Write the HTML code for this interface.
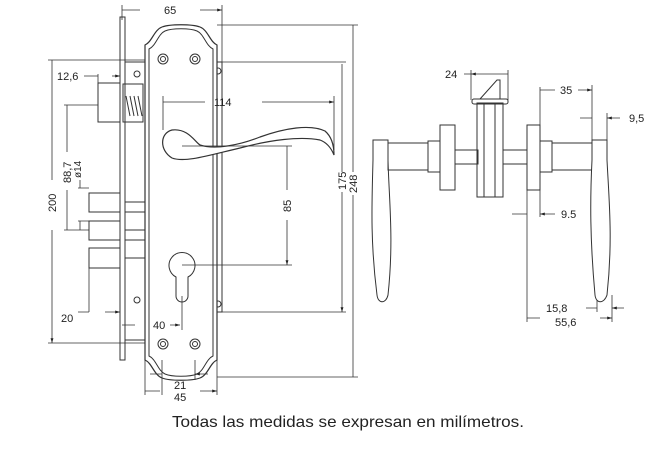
<!DOCTYPE html>
<html><head><meta charset="utf-8"><style>
html,body{margin:0;padding:0;background:#fff;width:672px;height:451px;overflow:hidden}
svg{display:block}
text{font-family:"Liberation Sans",sans-serif;font-size:11px;fill:#222}
</style></head><body>
<svg width="672" height="451" viewBox="0 0 672 451" xmlns="http://www.w3.org/2000/svg">
<defs><marker id="a" viewBox="0 0 10 10" refX="10" refY="5" markerWidth="6" markerHeight="6" orient="auto-start-reverse"><path d="M0,2 L10,5 L0,8z" fill="#222"/></marker></defs>
<g stroke="#333" stroke-width="1" fill="none">
<rect x="120" y="17" width="5" height="343" fill="#fff"/>
<rect x="125" y="62" width="22" height="278"/>
<rect x="98" y="83" width="22" height="39"/>
<rect x="123" y="84" width="20" height="38"/>
<path d="M126,96 l4,20 M130,96 l4,20 M134,96 l4,20 M138,96 l4,20"/>
<rect x="89" y="193" width="31" height="19"/>
<rect x="89" y="221" width="31" height="19"/>
<rect x="89" y="248" width="31" height="20"/>
<path d="M125,202 H147 M125,212 H147 M125,230 H147 M125,240 H147 M125,258 H147"/>
<rect x="215" y="62" width="7" height="250"/>
<circle cx="218" cy="71" r="3"/><circle cx="218" cy="304" r="3"/>
<circle cx="137" cy="74" r="3"/><circle cx="137" cy="300" r="3"/>
<path d="M145,45 C152,42 154,30 162,27 C170,24 192,24 200,27 C208,30 210,42 217,45 L217,360 C210,363 208,375 200,378 C192,381 170,381 162,378 C154,375 152,363 145,360 Z" fill="#fff" stroke-width="1.2"/>
<path d="M149,49 C156,46 158,34 165,31 C172,28 190,28 197,31 C204,34 206,46 213,49 L213,356 C206,359 204,371 197,374 C190,377 172,377 165,374 C158,371 156,359 149,356 Z"/>
<circle cx="163" cy="59" r="5"/><circle cx="163" cy="59" r="2.5"/>
<circle cx="195" cy="59" r="5"/><circle cx="195" cy="59" r="2.5"/>
<circle cx="163" cy="344" r="5"/><circle cx="163" cy="344" r="2.5"/>
<circle cx="195" cy="344" r="5"/><circle cx="195" cy="344" r="2.5"/>
<path d="M172,130 C160,133 159,150 172,158 C185,163 210,155 240,148 C270,140 300,136 320,140 C328,143 332,150 334,155 C334,146 332,137 325,131 C310,124 285,128 260,137 C240,145 215,150 200,145 C195,142 188,128 172,130 Z" fill="#fff" stroke-width="1.2"/>
<path d="M176,277 A13,13 0 1 1 188,277 L188,296 A6,6 0 0 1 176,296 Z" fill="#fff"/>
<path d="M373,140 H388 V160 C389,200 394,240 388,295 C386,304 378,304 377,295 C370,240 372,200 373,160 Z" fill="#fff"/>
<rect x="388" y="143" width="40" height="27"/>
<rect x="428" y="141" width="12" height="31"/>
<rect x="440" y="125" width="15" height="65"/>
<rect x="455" y="150" width="23" height="14"/>
<rect x="477" y="103" width="26" height="94"/>
<path d="M484,103 V197 M495,103 V197"/>
<rect x="472" y="99" width="36" height="5" rx="2"/>
<path d="M480,99 L497,80 H500 V99"/>
<rect x="503" y="150" width="24" height="14"/>
<rect x="527" y="125" width="13" height="65"/>
<rect x="540" y="141" width="12" height="31"/>
<rect x="552" y="143" width="40" height="27"/>
<path d="M592,140 H607 V160 C609,200 613,240 607,295 C604,304 596,304 595,295 C590,240 590,200 592,160 Z" fill="#fff"/>
</g>
<g stroke="#333" stroke-width="0.8" fill="none">
<path d="M122,5 V20 M222,5 V62 M222,62 V130"/>
<path d="M140,10 H122 M200,10 H222" marker-end="url(#a)"/>
<path d="M217,25 H358 M217,377 H358 M222,62 H346 M222,312 H346"/>
<path d="M353,172 V25 M353,195 V377 M342,172 V64 M342,192 V312" marker-end="url(#a)"/>
<path d="M48,60 H145 M48,343 H145"/>
<path d="M52,180 V60 M52,230 V343" marker-end="url(#a)"/>
<path d="M64,105 H98 M64,230 H89"/>
<path d="M67,105 V152 M67,190 V230"/>
<path d="M78,188 H89 M78,221 H89 M80,180 V188 M80,221 V230"/>
<path d="M84,76 H98 M98,74 V83 M120,74 V83"/>
<path d="M112,76 H120" marker-end="url(#a)"/>
<path d="M163,96 V130 M334,96 V150"/>
<path d="M205,102 H163 M262,102 H334" marker-end="url(#a)"/>
<path d="M182,146 H292 M182,265 H292"/>
<path d="M287,190 V146 M287,220 V265" marker-end="url(#a)"/>
<path d="M89,268 V312"/>
<path d="M78,312 H89 M105,312 H120" marker-end="url(#a)"/>
<path d="M182,296 V330"/>
<path d="M135,325 H122 M170,325 H180" marker-end="url(#a)"/>
<path d="M162,360 V395 M195,360 V380 M145,360 V395 M217,360 V395"/>
<path d="M150,374 H162 M208,374 H195" marker-end="url(#a)"/>
<path d="M160,391 H145 M200,391 H217" marker-end="url(#a)"/>
<path d="M471,70 V100 M508,70 V100"/>
<path d="M464,74 H508 M508,74 H471" marker-end="url(#a)"/>
<path d="M540,87 V125 M592,85 V140 M607,113 V140"/>
<path d="M555,90 H540 M578,90 H592" marker-end="url(#a)"/>
<path d="M580,118 H592 M620,118 H607" marker-end="url(#a)"/>
<path d="M527,190 V322 M540,190 V217"/>
<path d="M512,214 H527 M555,214 H540" marker-end="url(#a)"/>
<path d="M586,308 H597 M624,308 H612" marker-end="url(#a)"/>
<path d="M597,300 V312 M612,295 V322"/>
<path d="M540,318 H527 M600,318 H612" marker-end="url(#a)"/>
</g>
<g>
<text x="164" y="14">65</text>
<text x="57" y="80">12,6</text>
<text x="214" y="106">114</text>
<text x="61" y="322">20</text>
<text x="153" y="329">40</text>
<text x="174" y="389">21</text>
<text x="174" y="401">45</text>
<text x="445" y="78">24</text>
<text x="560" y="94">35</text>
<text x="629" y="122">9,5</text>
<text x="561" y="218">9.5</text>
<text x="546" y="312">15,8</text>
<text x="555" y="326">55,6</text>
<text transform="translate(56,212) rotate(-90)">200</text>
<text transform="translate(71,183) rotate(-90)">88,7</text>
<text transform="translate(81,178) rotate(-90)" style="font-size:10px">ø14</text>
<text transform="translate(291,212) rotate(-90)">85</text>
<text transform="translate(346,190) rotate(-90)">175</text>
<text transform="translate(357,193) rotate(-90)">248</text>
<text x="172" y="427" style="font-size:16px" textLength="352" lengthAdjust="spacingAndGlyphs">Todas las medidas se expresan en milímetros.</text>
</g>
</svg>
</body></html>
